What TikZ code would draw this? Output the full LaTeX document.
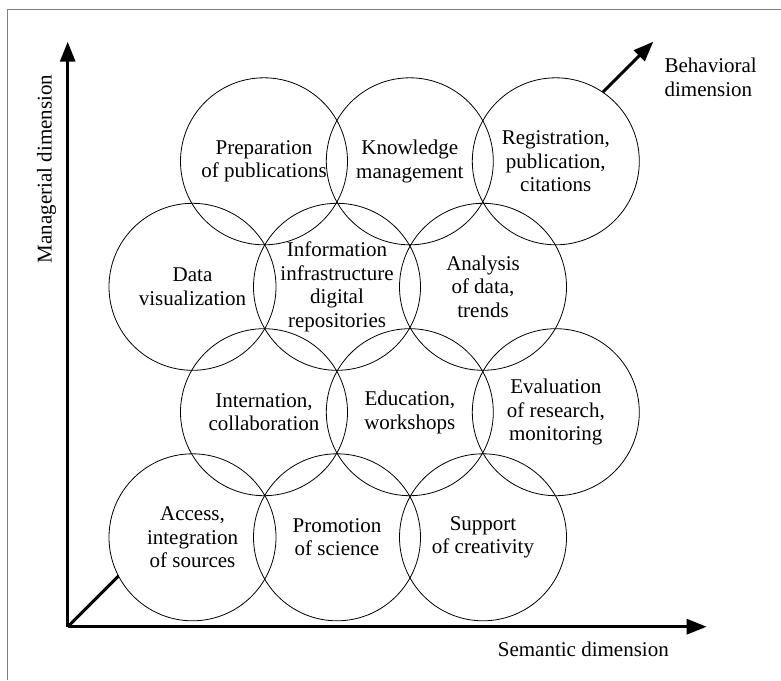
\documentclass[tikz,border=0pt]{standalone}
\usepackage{fontspec}
\setmainfont{Liberation Serif}
\usetikzlibrary{arrows.meta,positioning,backgrounds}

\begin{document}
\begin{tikzpicture}[x=1pt,y=-1pt,
	field/.style={circle,draw,line width=0.8pt,minimum size=167pt,inner sep=0pt,
		align=center,font=\fontsize{21}{23.5}\selectfont},
	axis/.style={line width=3pt,-{Triangle[length=20pt,width=15pt]}},
	axislabel/.style={font=\fontsize{21}{23.5}\selectfont}]
		\def\r{83.5} % radius of a circle
		\useasboundingbox (0,0) rectangle (781,680);
		\draw[gray,line width=1pt] (7.5,680) -- (7.5,9.5) -- (781,9.5);
		
		\coordinate (O) at (67.7,626.7); % origin
		\coordinate (M) at (67.7,41.7); % managerial tip
		\coordinate (S) at (706.7,626.7); % semantic tip
		\coordinate (B) at (653.3,41.7); % behavioral tip
		
		% row 1
		\node[field] (prep) at (264,161.3) {Preparation\\of publications};
		\node[field] (know) at (409.8,161.3) {Knowledge\\management};
		\node[field] (regist) at (555.8,161.3) {Registration,\\publication,\\citations};
		% row 2
		\node[field] (dataviz) at (192.5,286.8) {Data\\visualization};
		\node[field] (infra) at (337,286.8) {Information\\infrastructure\\digital\\repositories};
		\node[field] (analysis) at (483,286.8) {Analysis\\of data,\\trends};
		% row 3
		\node[field] (internat) at (264,412.2) {Internation,\\collaboration};
		\node[field] (educ) at (409.8,412.2) {Education,\\workshops};
		\node[field] (evalres) at (555.8,412.2) {Evaluation\\of research,\\monitoring};
		% row 4
		\node[field] (access) at (192.5,537.3) {Access,\\integration\\of sources};
		\node[field] (promo) at (337,537.3) {Promotion\\of science};
		\node[field] (support) at (483,537.3) {Support\\of creativity};
		
		\begin{scope}[on background layer]
			\draw[axis] (O) -- (B);
			\foreach \n in {prep,know,regist,dataviz,infra,analysis,internat,educ,evalres,access,promo,support}
			\fill[white] (\n.center) circle (\r);
		\end{scope}
		
		\draw[axis] (O) -- (M);
		\draw[axis] (O) -- (S);
		
		\node[axislabel,rotate=90] (mlabel) at (46.5,169) {Managerial dimension};
		\node[axislabel,align=left] (blabel) at (710.7,77.5) {Behavioral\\dimension};
		\node[axislabel] (slabel) at (583.3,649.5) {Semantic dimension};
	\end{tikzpicture}
\end{document}
